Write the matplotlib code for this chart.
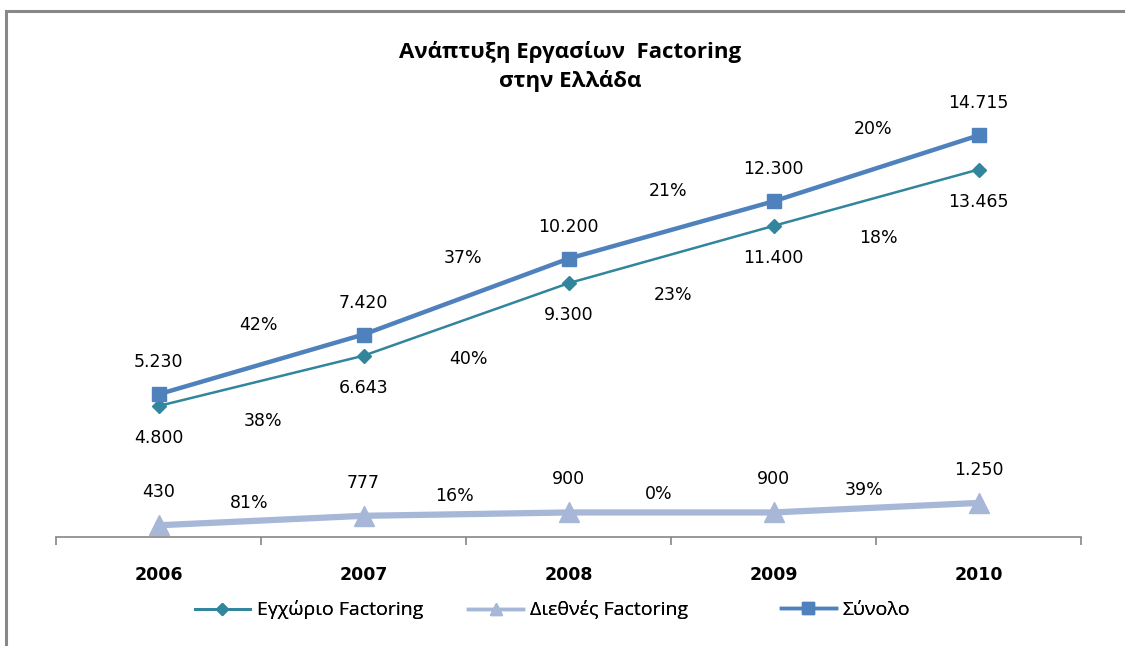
import numpy as np
import matplotlib.pyplot as plt
from matplotlib.patches import Rectangle
from matplotlib.lines import Line2D

plt.rcParams['font.family'] = ['Open Sans', 'DejaVu Sans']

years = ["2006", "2007", "2008", "2009", "2010"]
domestic = [4800, 6643, 9300, 11400, 13465]
international = [430, 777, 900, 900, 1250]
total = [5230, 7420, 10200, 12300, 14715]

domestic_growth = ["38%", "40%", "23%", "18%"]
international_growth = ["81%", "16%", "0%", "39%"]
total_growth = ["42%", "37%", "21%", "20%"]

names = ["Εγχώριο Factoring", "Διεθνές Factoring", "Σύνολο"]

c_dom = "#31859C"
c_int = "#A6B7D8"
c_tot = "#4F81BD"


def fmt(v):
    return "{:,}".format(v).replace(",", ".")


fig = plt.figure(figsize=(11.25, 6.46), dpi=100)
ax = fig.add_axes([0.0498, 0.1687, 0.9112, 0.676])
x = np.arange(len(years))

ax.plot(x, domestic, color=c_dom, lw=1.8, marker="D", ms=7)
ax.plot(x, international, color=c_int, lw=4.5, marker="^", ms=15)
ax.plot(x, total, color=c_tot, lw=3.2, marker="s", ms=10)

ax.set_xlim(-0.5, len(years) - 0.5)
ax.set_ylim(0, 16000)

lab = dict(fontsize=12.5, family="DejaVu Sans", ha="center", va="center",
           textcoords="offset pixels")
for i in x:
    ax.annotate(fmt(total[i]), (i, total[i]), xytext=(0, 32), **lab)
    ax.annotate(fmt(domestic[i]), (i, domestic[i]), xytext=(0, -32), **lab)
    ax.annotate(fmt(international[i]), (i, international[i]), xytext=(0, 33), **lab)

for i in range(len(years) - 1):
    xm = i + 0.5
    ax.annotate(total_growth[i], (xm, (total[i] + total[i + 1]) / 2), xytext=(-3, 39), **lab)
    ax.annotate(domestic_growth[i], (xm, (domestic[i] + domestic[i + 1]) / 2), xytext=(2, -40), **lab)
    ax.annotate(international_growth[i], (xm, (international[i] + international[i + 1]) / 2),
                xytext=(-12, 18), **lab)

for s in ["top", "left", "right"]:
    ax.spines[s].set_visible(False)
ax.spines["bottom"].set_color("#868686")
ax.spines["bottom"].set_linewidth(1.2)
ax.set_yticks([])
ax.set_xticks(x)
ax.set_xticklabels(years, fontsize=12.5, fontweight="bold", family="DejaVu Sans")
ax.tick_params(axis="x", which="major", length=0, pad=21)
ax.set_xticks(np.arange(-0.5, len(years)), minor=True)
ax.tick_params(axis="x", which="minor", length=6, color="#868686", width=1.2)

fig.text(0.507, 0.897, "Ανάπτυξη Εργασίων  Factoring\nστην Ελλάδα", ha="center", va="center",
         fontsize=16, fontweight="bold", linespacing=1.45)

handles = [
    Line2D([], [], color=c_dom, lw=2, marker="D", ms=6),
    Line2D([], [], color=c_int, lw=2.5, marker="^", ms=8),
    Line2D([], [], color=c_tot, lw=2.5, marker="s", ms=8),
]
for h, name, left in zip(handles, names, [0.1733, 0.416, 0.694]):
    leg = fig.legend([h], [name], loc="center left", bbox_to_anchor=(left, 0.056), frameon=False,
                     fontsize=14, handlelength=2.83, handletextpad=0.35, borderpad=0,
                     borderaxespad=0)
    fig.add_artist(leg)

fig.patches.append(Rectangle((6 / 1125, -0.05), 1.1, 1.05 - 11 / 646, transform=fig.transFigure,
                             fill=False, edgecolor="#888888", lw=2.2))

fig.savefig("out.png", dpi=100)
